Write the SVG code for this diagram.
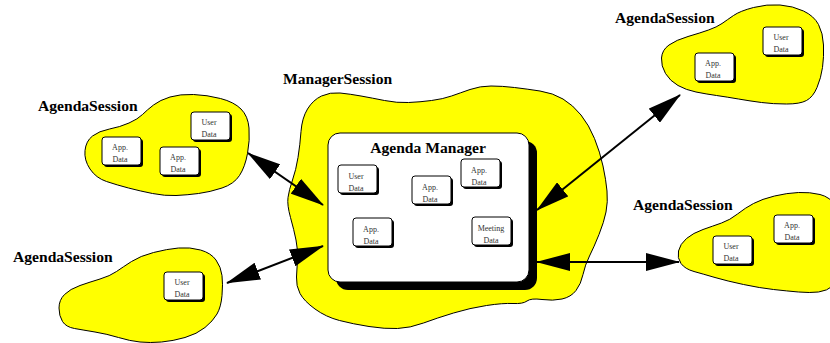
<svg xmlns="http://www.w3.org/2000/svg" width="830" height="343" viewBox="0 0 830 343">
  <style>
    .blob { fill: #ffff00; stroke: #000; stroke-width: 1; }
    .title { font-family: "Liberation Serif", "Times New Roman", serif; font-weight: bold; font-size: 15.6px; fill: #000; }
    .shadow { fill: #000; }
    .face { fill: #fff; stroke: #000; stroke-width: 1; }
    .item { font-family: "Liberation Serif", "Times New Roman", serif; font-size: 8px; fill: #333; text-anchor: middle; }
    .link { stroke: #000; stroke-width: 2; fill: none; marker-start: url(#ah); marker-end: url(#ah); }
  </style>
  <defs>
    <marker id="ah" viewBox="0 0 34 18" refX="33" refY="9" markerWidth="34" markerHeight="18" markerUnits="userSpaceOnUse" orient="auto-start-reverse">
      <path d="M0,0 L34,9 L0,18 Z" fill="#000"/>
    </marker>
    <!-- small data card: shadow + face, 39x28 -->
    <g id="card">
      <rect class="shadow" x="2" y="2" width="39" height="28" rx="3"/>
      <rect class="face" x="0" y="0" width="39" height="28" rx="3"/>
    </g>
  </defs>

  <!-- Manager session with the agenda manager inside -->
  <g id="manager-session">
    <path class="blob" d="M307.5,109 Q313,100 321.5,96 Q330,92 340,93 Q350,94 361,96 Q372,98 384.5,100.5 Q397,103 408.5,102.5 Q420,102 431.5,100.5 Q443,99 451.5,96 Q460,93 470,89.5 Q480,86 491,86 Q502,86 514.5,87.5 Q527,89 540,91 Q553,93 563,99 Q573,105 581,115 Q589,125 594.5,138.5 Q600,152 603,166 Q606,180 607,191 Q608,202 606,212 Q604,222 599,234.5 Q594,247 589.5,256 Q585,265 583,274.5 Q581,284 576,290.5 Q571,297 562,299 Q553,301 542,299.5 Q531,298 527,301 Q523,304 513,303.5 Q503,303 486.5,305.5 Q470,308 453.5,313 Q437,318 423.5,323 Q410,328 397.5,328.5 Q385,329 369,326.5 Q353,324 339.5,320.5 Q326,317 315,309 Q304,301 300,293.5 Q296,286 296.5,277 Q297,268 297.5,259 Q298,250 296,240 Q294,230 290.5,217.5 Q287,205 288,197.5 Q289,190 292.5,180 Q296,170 298,157.5 Q300,145 301,131.5 Q302,118 307.5,109 Z"/>
    <text class="title" x="283" y="84">ManagerSession</text>
  </g>

  <g id="agenda-manager">
    <rect class="shadow" x="336" y="141" width="201" height="149" rx="12"/>
    <rect class="face" x="328" y="133" width="201" height="149" rx="12"/>
    <text class="title" x="428" y="153" text-anchor="middle">Agenda Manager</text>
    <g transform="translate(338,165)"><use href="#card"/><text class="item" x="18" y="13.5">User</text><text class="item" x="18" y="25.5">Data</text></g>
    <g transform="translate(412,176)"><use href="#card"/><text class="item" x="18" y="13.5">App.</text><text class="item" x="18" y="25.5">Data</text></g>
    <g transform="translate(461,159)"><use href="#card"/><text class="item" x="18" y="13.5">App.</text><text class="item" x="18" y="25.5">Data</text></g>
    <g transform="translate(353,218)"><use href="#card"/><text class="item" x="18" y="13.5">App.</text><text class="item" x="18" y="25.5">Data</text></g>
    <g transform="translate(472,217)"><use href="#card"/><text class="item" x="19" y="13.5">Meeting</text><text class="item" x="19" y="25.5">Data</text></g>
  </g>

  <!-- Agenda session, upper left -->
  <g id="agenda-session-ul">
    <path class="blob" d="M142.5,114.5 Q147,110 153.5,105 Q160,100 170,97 Q180,94 193.5,94.5 Q207,95 220.5,98.5 Q234,102 241,109 Q248,116 249,128 Q250,140 247.5,153.5 Q245,167 239.5,175.5 Q234,184 222,188 Q210,192 198.5,193.5 Q187,195 176,195.5 Q165,196 152.5,193.5 Q140,191 128.5,188 Q117,185 106.5,181.5 Q96,178 90,169 Q84,160 85,150.5 Q86,141 92.5,136 Q99,131 109.5,129 Q120,127 129,123 Q138,119 142.5,114.5 Z"/>
    <text class="title" x="38" y="111">AgendaSession</text>
    <g transform="translate(102,137)"><use href="#card"/><text class="item" x="18" y="13">App.</text><text class="item" x="18" y="25">Data</text></g>
    <g transform="translate(160,147)"><use href="#card"/><text class="item" x="18" y="13">App.</text><text class="item" x="18" y="25">Data</text></g>
    <g transform="translate(191,112)"><use href="#card"/><text class="item" x="18" y="13">User</text><text class="item" x="18" y="25">Data</text></g>
  </g>

  <!-- Agenda session, upper right -->
  <g id="agenda-session-ur">
    <path class="blob" d="M722,23.5 Q727,20 733.5,15.5 Q740,11 753.5,7.5 Q767,4 780,5 Q793,6 803.5,11 Q814,16 818.5,24.5 Q823,33 823.5,45 Q824,57 822.5,67.5 Q821,78 817,87.5 Q813,97 806.5,100.5 Q800,104 786.5,104 Q773,104 761.5,102.5 Q750,101 738.5,99 Q727,97 716.5,95.5 Q706,94 696,92 Q686,90 678,85.5 Q670,81 665.5,73.5 Q661,66 661.5,58 Q662,50 669,45 Q676,40 688,36.5 Q700,33 708.5,30 Q717,27 722,23.5 Z"/>
    <text class="title" x="615" y="23">AgendaSession</text>
    <g transform="translate(695,53)"><use href="#card"/><text class="item" x="18" y="13">App.</text><text class="item" x="18" y="25">Data</text></g>
    <g transform="translate(763,27)"><use href="#card"/><text class="item" x="18" y="13">User</text><text class="item" x="18" y="25">Data</text></g>
  </g>

  <!-- Agenda session, lower right -->
  <g id="agenda-session-lr">
    <path class="blob" d="M721.5,223 Q730,220 737.5,214 Q745,208 753.5,203.5 Q762,199 774.5,196 Q787,193 798.5,192.5 Q810,192 820,194.5 Q830,197 836,206 Q842,215 843.5,230 Q845,245 842.5,262.5 Q840,280 833.5,285.5 Q827,291 818.5,292 Q810,293 798.5,292 Q787,291 773.5,289.5 Q760,288 743.5,284.5 Q727,281 715,277.5 Q703,274 694,271.5 Q685,269 681,263.5 Q677,258 678.5,251 Q680,244 686.5,238.5 Q693,233 703,229.5 Q713,226 721.5,223 Z"/>
    <text class="title" x="633" y="210">AgendaSession</text>
    <g transform="translate(713,236)"><use href="#card"/><text class="item" x="18" y="13">User</text><text class="item" x="18" y="25">Data</text></g>
    <g transform="translate(774,215)"><use href="#card"/><text class="item" x="18" y="13">App.</text><text class="item" x="18" y="25">Data</text></g>
  </g>

  <!-- Agenda session, lower left -->
  <g id="agenda-session-ll">
    <path class="blob" d="M116.5,271.5 Q123,267 131.5,261.5 Q140,256 153.5,252.5 Q167,249 178.5,248 Q190,247 200.5,250 Q211,253 216,260 Q221,267 222,275.5 Q223,284 222,295.5 Q221,307 217,314 Q213,321 205,327.5 Q197,334 185,337.5 Q173,341 161.5,342 Q150,343 140,342 Q130,341 118.5,337.5 Q107,334 95,332 Q83,330 74.5,328.5 Q66,327 62.5,321.5 Q59,316 59,308 Q59,300 64.5,294.5 Q70,289 80,285.5 Q90,282 100,279 Q110,276 116.5,271.5 Z"/>
    <text class="title" x="13" y="262">AgendaSession</text>
    <g transform="translate(164,272)"><use href="#card"/><text class="item" x="18" y="13">User</text><text class="item" x="18" y="25">Data</text></g>
  </g>

  <!-- Two-way links between the sessions -->
  <g id="connectors">
    <line class="link" x1="248" y1="153" x2="323" y2="205"/>
    <line class="link" x1="227" y1="283" x2="323" y2="246"/>
    <line class="link" x1="537" y1="210" x2="680" y2="95"/>
    <line class="link" x1="537" y1="262" x2="679" y2="262"/>
  </g>
</svg>
